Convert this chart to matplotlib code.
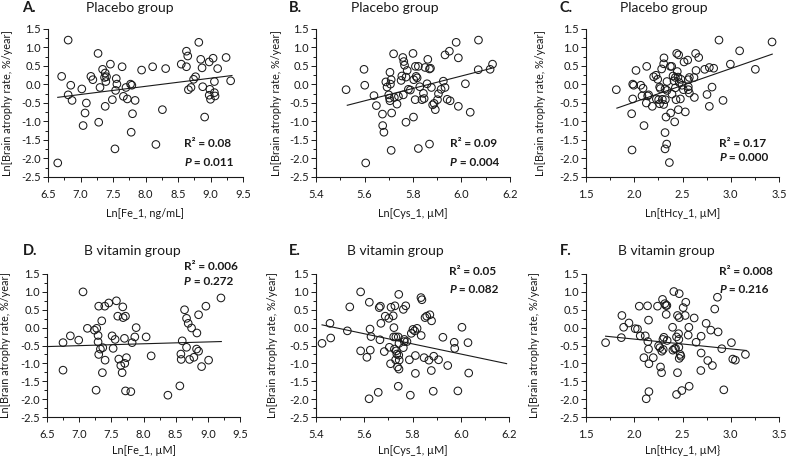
import matplotlib
matplotlib.use("Agg")
import matplotlib.pyplot as plt
import numpy as np
from matplotlib.ticker import MultipleLocator

plt.rcParams["font.family"] = ["Lato", "DejaVu Sans"]

W, H = 787, 457

# --- A. Placebo group, Fe ---
a_x = [6.81, 6.71, 6.85, 6.81, 6.87, 7.02, 7.09, 7.07, 7.04, 6.65, 7.27, 7.16, 7.19, 7.30, 7.28,
       7.34, 7.38, 7.40, 7.37, 7.39, 7.38, 7.46, 7.49, 7.55, 7.56, 7.54, 7.53, 7.64, 7.66, 7.70,
       7.72, 7.77, 7.79, 7.80, 7.78, 7.84, 7.94, 8.11, 8.31, 8.26, 8.16, 8.55, 8.63, 8.65, 8.63,
       8.66, 8.70, 8.74, 8.77, 8.82, 8.85, 8.87, 8.88, 8.91, 8.98, 9.04, 8.99, 8.98, 9.00, 9.06,
       9.06, 9.07, 9.11, 9.24, 9.31]
a_y = [1.20, 0.22, -0.02, -0.28, -0.43, -0.12, -0.50, -0.77, -1.11, -2.12, 0.84, 0.22, 0.13, -0.08, -1.02,
       0.41, 0.31, 0.21, 0.19, 0.08, -0.59, 0.55, -0.41, 0.16, 0.01, -0.16, -1.74, 0.48, -0.32, -0.08,
       -0.39, 0.01, -0.02, -0.79, -1.29, -0.43, 0.39, 0.48, 0.43, -0.68, -1.62, 0.55, 0.90, 0.77, 0.48,
       -0.14, -0.08, 0.14, 0.21, 1.14, 0.68, 0.45, -0.06, -0.88, 0.61, 0.71, -0.13, -0.29, -0.40, 0.08,
       -0.22, -0.31, 0.43, 0.73, 0.10]
a_fit = (0.22, -1.81)
a_fit_x = (6.65, 9.33)
a_stats = ("0.08", "0.011")

# --- B. Placebo group, Cys ---
b_x = [5.524, 5.598, 5.601, 5.605, 5.639, 5.649, 5.674, 5.675, 5.680, 5.688, 5.693, 5.700, 5.705, 5.707, 5.710,
       5.703, 5.705, 5.712, 5.710, 5.720, 5.723, 5.734, 5.740, 5.751, 5.754, 5.758, 5.762, 5.765, 5.760, 5.771,
       5.776, 5.771, 5.781, 5.789, 5.800, 5.803, 5.810, 5.813, 5.817, 5.809, 5.802, 5.822, 5.822, 5.828, 5.837,
       5.843, 5.846, 5.850, 5.858, 5.861, 5.868, 5.872, 5.876, 5.868, 5.881, 5.887, 5.892, 5.901, 5.905, 5.916,
       5.925, 5.932, 5.932, 5.941, 5.950, 5.953, 5.978, 5.987, 5.987, 6.016, 6.036, 6.069, 6.070, 6.118, 6.128]
b_y = [-0.14, 0.41, -0.02, -2.12, -0.30, -0.57, -0.80, -1.11, -1.29, 0.07, -0.07, -0.28, 0.33, 0.01, 0.13,
       -0.37, -0.44, -0.77, -1.78, 0.83, -0.35, -0.53, -0.32, 0.11, 0.23, 0.73, 0.62, 0.52, -0.28, 0.20,
       0.38, -1.02, -0.13, -0.15, 0.84, 0.13, 0.49, 0.22, 0.18, -0.41, -0.88, 0.49, -1.73, -0.06, -0.41,
       -0.24, -0.38, 0.46, 0.02, 0.68, 0.42, 0.44, -0.08, -1.61, -0.55, -0.51, -0.68, -0.41, -0.25, -0.13,
       0.09, -0.08, 0.80, -0.40, 0.90, -0.44, 1.14, 0.72, -0.59, 0.02, -0.75, 0.40, 1.20, 0.41, 0.55]
b_fit = (1.68, -9.85)
b_fit_x = (5.529, 6.125)
b_stats = ("0.09", "0.004")

# --- C. Placebo group, tHcy ---
c_x = [1.814, 1.977, 1.973, 1.984, 1.984, 1.994, 2.018, 2.067, 2.080, 2.091, 2.101, 2.129, 2.125, 2.139, 2.149,
       2.187, 2.201, 2.225, 2.229, 2.243, 2.253, 2.263, 2.270, 2.263, 2.284, 2.291, 2.305, 2.305, 2.308, 2.319,
       2.322, 2.319, 2.319, 2.329, 2.336, 2.339, 2.339, 2.364, 2.374, 2.388, 2.377, 2.391, 2.402, 2.412, 2.419,
       2.426, 2.426, 2.433, 2.440, 2.446, 2.457, 2.460, 2.453, 2.467, 2.478, 2.484, 2.495, 2.509, 2.516, 2.529,
       2.554, 2.560, 2.560, 2.560, 2.571, 2.571, 2.623, 2.619, 2.636, 2.640, 2.668, 2.730, 2.754, 2.778, 2.778,
       2.806, 2.823, 2.878, 2.920, 2.996, 3.092, 3.255, 3.428]
c_y = [-0.14, -1.77, -0.79, -0.39, 0.01, -0.02, 0.38, -0.02, -0.31, -0.10, -1.11, 0.49, -0.50, -0.31, -0.28,
       -0.59, 0.21, 0.25, -0.39, 0.14, -0.41, -0.07, -0.11, -0.52, 0.42, -0.40, -0.54, 0.56, 0.72, -0.12,
       -0.41, -1.30, -1.74, -0.88, -1.61, 0.08, -0.16, -2.11, 0.49, 0.49, -0.77, -0.26, 0.23, 0.10, -1.01,
       -0.09, 0.19, -0.41, 0.84, 0.35, -0.68, 0.80, 0.20, 0.05, -0.39, 0.14, -0.02, -0.14, 0.61, -0.74,
       0.66, -0.14, 0.13, -0.06, -0.23, 0.19, -0.35, 0.19, 0.84, 0.38, 0.73, 0.41, -0.27, -0.59, 0.46,
       -0.07, 0.44, 1.20, -0.43, 0.55, 0.91, 0.41, 1.15]
c_fit = (0.907, -2.29)
c_fit_x = (1.82, 3.43)
c_stats = ("0.17", "0.000")

# --- D. B vitamin group, Fe ---
d_x = [6.749, 6.749, 6.863, 6.993, 7.060, 7.128, 7.237, 7.273, 7.294, 7.294, 7.304, 7.304, 7.263, 7.330, 7.351,
       7.367, 7.361, 7.398, 7.403, 7.460, 7.512, 7.528, 7.559, 7.579, 7.600, 7.616, 7.647, 7.668, 7.678, 7.683,
       7.720, 7.704, 7.709, 7.735, 7.720, 7.803, 7.823, 7.865, 7.886, 8.041, 8.119, 8.379, 8.565, 8.581, 8.586,
       8.602, 8.638, 8.669, 8.669, 8.695, 8.716, 8.747, 8.783, 8.830, 8.825, 8.856, 8.856, 8.903, 8.970, 9.012,
       9.204]
d_y = [-0.42, -1.19, -0.23, -0.35, 1.00, -0.02, -0.07, -0.02, -0.22, -0.40, 0.60, -0.75, -1.75, -0.60, 0.19,
       -0.56, -1.26, 0.60, -0.91, 0.69, -0.23, -0.58, -0.33, 0.75, 0.32, -0.88, -1.06, -1.26, 0.58, 0.28,
       0.32, -0.30, -1.00, -0.84, -1.77, -1.79, -0.42, -0.26, 0.00, -0.26, -0.79, -1.89, -1.63, -0.74, -0.89,
       -0.37, 0.50, -0.55, 0.26, 0.12, -0.89, -0.01, -0.83, -0.15, -0.60, 0.36, -0.66, -1.09, 0.60, -0.91,
       0.83]
d_fit = (0.052, -0.868)
d_fit_x = (6.5, 9.21)
d_stats = ("0.006", "0.272")

# --- E. B vitamin group, Cys ---
e_x = [5.425, 5.458, 5.461, 5.530, 5.540, 5.585, 5.585, 5.611, 5.621, 5.624, 5.628, 5.625, 5.620, 5.658, 5.662,
       5.667, 5.665, 5.669, 5.683, 5.687, 5.702, 5.704, 5.711, 5.709, 5.720, 5.723, 5.722, 5.725, 5.727, 5.731,
       5.733, 5.735, 5.730, 5.738, 5.741, 5.743, 5.744, 5.743, 5.744, 5.741, 5.745, 5.762, 5.766, 5.766, 5.772,
       5.777, 5.762, 5.787, 5.791, 5.795, 5.802, 5.809, 5.812, 5.812, 5.819, 5.836, 5.835, 5.839, 5.848, 5.852,
       5.859, 5.868, 5.872, 5.879, 5.878, 5.888, 5.886, 5.908, 5.926, 5.946, 5.973, 5.975, 5.988, 6.005, 6.030,
       6.033]
e_y = [-0.44, 0.12, -0.29, -0.09, 0.58, 1.00, -0.65, -0.83, 0.71, -0.04, -0.25, -0.63, -1.99, -1.81, 0.56,
       0.60, -0.34, 0.12, -0.67, 0.32, 0.26, -0.55, 0.57, -1.01, 0.33, 0.00, -0.26, -0.60, 0.61, -0.26,
       -0.65, -0.74, -0.90, -1.10, -0.26, 0.93, -0.44, -0.77, -1.16, -1.64, -0.91, 0.51, -0.33, -0.39, 0.61,
       -0.39, -0.56, -0.90, -1.89, -0.16, -0.05, -0.09, -0.78, -1.28, -0.02, -0.22, 0.84, 0.78, -0.84, 0.28,
       0.32, -0.91, 0.36, 0.19, -1.20, -0.80, -1.78, -0.90, -0.27, -1.06, -0.41, -0.58, -1.77, 0.01, -0.42,
       -1.27]
e_fit = (-1.418, 7.77)
e_fit_x = (5.425, 6.19)
e_stats = ("0.05", "0.082")

# --- F. B vitamin group, tHcy ---
f_x = [1.703, 1.872, 1.866, 1.890, 1.945, 2.010, 2.034, 2.052, 2.062, 2.100, 2.114, 2.124, 2.138, 2.141, 2.148,
       2.148, 2.152, 2.152, 2.197, 2.241, 2.252, 2.266, 2.272, 2.286, 2.283, 2.293, 2.307, 2.297, 2.300, 2.317,
       2.328, 2.338, 2.331, 2.341, 2.397, 2.400, 2.410, 2.417, 2.428, 2.438, 2.438, 2.448, 2.448, 2.459, 2.462,
       2.462, 2.466, 2.466, 2.466, 2.476, 2.483, 2.493, 2.507, 2.528, 2.534, 2.559, 2.566, 2.569, 2.621, 2.641,
       2.693, 2.693, 2.690, 2.745, 2.762, 2.793, 2.810, 2.834, 2.862, 2.869, 2.907, 2.928, 3.007, 3.021, 3.048,
       3.152]
f_y = [-0.42, 0.34, -0.28, 0.01, 0.13, -0.03, -0.04, 0.60, -0.23, -0.84, -0.23, -1.99, 0.61, -0.39, 0.21,
       -0.60, -1.01, -1.79, -0.84, 0.60, -0.51, -0.56, -1.10, -0.66, -1.26, 0.79, -0.27, -0.33, -0.61, 0.67,
       0.62, 0.62, 0.37, -0.36, 0.01, -0.63, 1.01, -0.59, -0.58, -0.26, -1.87, 0.34, -1.26, -0.17, -0.33,
       -0.55, 0.95, 0.28, -0.86, -0.75, -0.80, -1.76, 0.56, 0.34, 0.71, -0.21, 0.01, -1.64, 0.27, -0.41,
       -0.24, -0.71, -1.20, 0.12, -0.92, -0.07, -1.06, 0.52, 0.85, -0.12, -0.59, -1.74, -0.42, -0.88, -0.91,
       -0.75]
f_fit = (-0.274, 0.227)
f_fit_x = (1.703, 3.162)
f_stats = ("0.008", "0.216")

letters = ["A.", "B.", "C.", "D.", "E.", "F."]
titles = ["Placebo group"] * 3 + ["B vitamin group"] * 3
xlabels = ["Ln[Fe_1, ng/mL]", "Ln[Cys_1, \u00b5M]", "Ln[tHcy_1, \u00b5M]",
           "Ln[Fe_1, \u00b5M]", "Ln[Cys_1, \u00b5M]", "Ln[tHcy_1, \u00b5M}"]
ylabel = "Ln[Brain atrophy rate, %/year]"
xlims = [(6.5, 9.5), (5.4, 6.2), (1.5, 3.5)] * 2
xsteps = [(0.5, 0.25), (0.2, 0.1), (0.5, 0.25)] * 2

series = [(a_x, a_y, a_fit, a_fit_x, a_stats), (b_x, b_y, b_fit, b_fit_x, b_stats),
          (c_x, c_y, c_fit, c_fit_x, c_stats), (d_x, d_y, d_fit, d_fit_x, d_stats),
          (e_x, e_y, e_fit, e_fit_x, e_stats), (f_x, f_y, f_fit, f_fit_x, f_stats)]

# layout in pixels of the reference: (left, right, top, bottom) of each plot area
boxes = [(48, 243, 29, 177), (316, 510, 29, 177), (586, 779, 29, 177),
         (47, 240, 274, 417), (316, 509, 274, 417), (586, 779, 274, 417)]
letter_x = [22, 289, 559, 23, 289, 560]
title_x = [130, 395, 664, 132, 395, 666]
title_y = [8, 8, 8, 251, 251, 251]
ylabel_x = [8, 277, 540, 6, 272, 534]
xlabel_y = [213, 213, 213, 451, 451, 451]
stat_pos = [(0.70, 0.225, 0.095), (0.69, 0.225, 0.095), (0.69, 0.225, 0.135),
            (0.71, 1.05, 0.945), (0.69, 1.015, 0.89), (0.69, 1.015, 0.89)]

INK = "#1a1a1a"
fig = plt.figure(figsize=(W / 100, H / 100), dpi=100)

for i, (xs, ys, fit, fit_x, stats) in enumerate(series):
    left, right, top, bottom = boxes[i]
    ax = fig.add_axes([left / W, 1 - bottom / H, (right - left) / W, (bottom - top) / H])
    ax.scatter(xs, ys, s=30, facecolors="none", edgecolors=INK, linewidths=0.75, zorder=3)
    lx = np.array(fit_x)
    ax.plot(lx, fit[0] * lx + fit[1], color=INK, lw=0.8, zorder=2)

    ax.set_xlim(*xlims[i])
    ax.set_ylim(-2.5, 1.5)
    ax.xaxis.set_major_locator(MultipleLocator(xsteps[i][0]))
    ax.xaxis.set_minor_locator(MultipleLocator(xsteps[i][1]))
    ax.yaxis.set_major_locator(MultipleLocator(0.5))
    ax.yaxis.set_minor_locator(MultipleLocator(0.25))
    ax.xaxis.set_major_formatter(lambda v, p: f"{v:.1f}")
    ax.yaxis.set_major_formatter(lambda v, p: f"{v:.1f}")
    for s in ("top", "right"):
        ax.spines[s].set_visible(False)
    for s in ("left", "bottom"):
        ax.spines[s].set_color(INK)
        ax.spines[s].set_linewidth(0.8)
    ax.tick_params(which="both", direction="out", color=INK, width=0.7, labelsize=8, labelcolor=INK)
    ax.tick_params(which="major", length=3.5)
    ax.tick_params(which="minor", length=2.5)
    ax.tick_params(axis="x", pad=5)
    ax.tick_params(axis="y", pad=1.5)

    cx = (left + right) / 2
    fig.text(letter_x[i] / W, 1 - title_y[i] / H, letters[i], ha="left", va="center",
             fontsize=10.5, fontweight="bold", color=INK)
    fig.text(title_x[i] / W, 1 - title_y[i] / H, titles[i], ha="center", va="center",
             fontsize=10, color=INK)
    fig.text(cx / W, 1 - xlabel_y[i] / H, xlabels[i], ha="center", va="center",
             fontsize=7.8, color=INK)
    fig.text(ylabel_x[i] / W, 1 - ((top + bottom) / 2) / H, ylabel, ha="center", va="center",
             rotation=90, fontsize=7.8, color=INK)

    sx, sy1, sy2 = stat_pos[i]
    ax.text(sx, sy1, f"R\u00b2 = {stats[0]}", transform=ax.transAxes, ha="left", va="center",
            fontsize=8.5, fontweight="bold", color=INK)
    tp = ax.text(sx, sy2, "P", transform=ax.transAxes, ha="left", va="center",
                 fontsize=8.5, fontweight="bold", fontstyle="italic", color=INK)
    ax.annotate(f" = {stats[1]}", xy=(1, 0), xycoords=tp, ha="left", va="bottom",
                fontsize=8.5, fontweight="bold", color=INK)

fig.savefig("out.png", dpi=100)
